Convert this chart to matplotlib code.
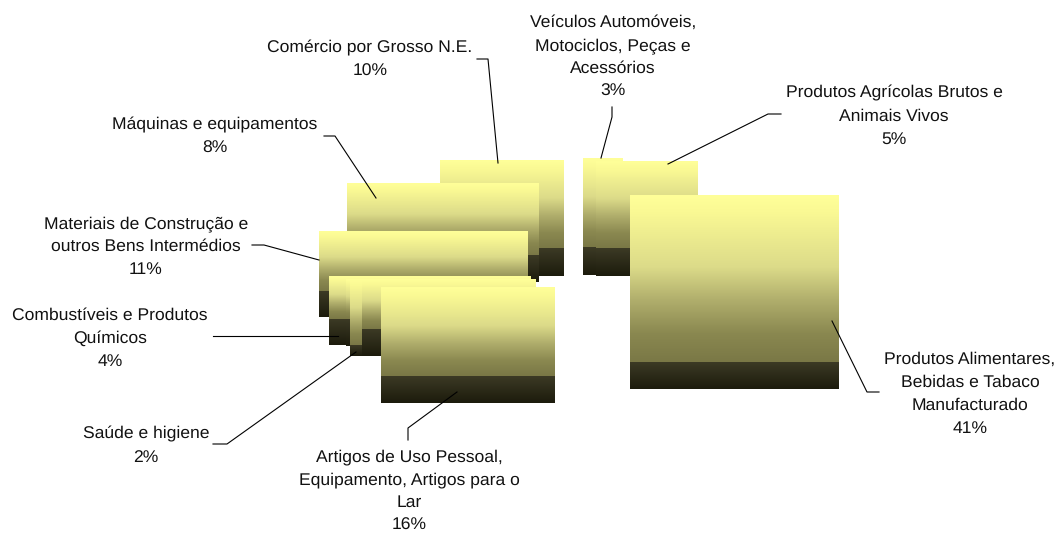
import numpy as np
import matplotlib
matplotlib.use('Agg')
import matplotlib.pyplot as plt
from matplotlib.colors import LinearSegmentedColormap

plt.rcParams['text.hinting'] = 'no_hinting'

# Chart data
categories = [
    'Comércio por Grosso N.E.',
    'Máquinas e equipamentos',
    'Materiais de Construção e\noutros Bens Intermédios',
    'Combustíveis e Produtos\nQuímicos',
    'Saúde e higiene',
    'Artigos de Uso Pessoal,\nEquipamento, Artigos para o\nLar',
    'Veículos Automóveis,\nMotociclos, Peças e\nAcessórios',
    'Produtos Agrícolas Brutos e\nAnimais Vivos',
    'Produtos Alimentares,\nBebidas e Tabaco\nManufacturado',
]
shares = [10, 8, 11, 4, 2, 16, 3, 5, 41]

# Label centres, in image pixels
label_x = [370, 215, 146, 110, 146, 409, 613, 894, 970]
label_y = [59.5, 136.5, 246.5, 338.5, 445.5, 491.5, 57, 116, 394]

# Block layout, drawn back to front: left, right, top, shade start, bottom
blocks = [
    (440, 564, 160, 248, 276),
    (347, 539, 183, 255, 282),
    (319, 528, 231, 291, 317),
    (329, 531, 276, 319, 345),
    (346, 536, 279, 319, 346),
    (350, 536, 279, 345, 356),
    (362, 536, 279, 329, 356),
    (381, 555, 287, 376, 403),
    (583, 623, 158, 247, 275),
    (596, 698, 161, 248, 276),
    (630, 839, 195, 362, 389),
]

# Leader lines
leaders = [
    ([477, 488, 498], [59, 59, 163]),
    ([324, 335, 376], [136, 136, 198]),
    ([252, 264, 319], [245, 245, 260]),
    ([213, 338], [336, 336]),
    ([213, 227, 356], [444, 444, 352]),
    ([408, 408, 457], [440, 428, 392]),
    ([612, 612, 601], [107, 117, 158]),
    ([781, 768, 668], [114, 114, 164]),
    ([879, 867, 832], [392, 392, 321]),
]

light = LinearSegmentedColormap.from_list('light', [
    (0, '#ffff99'), (0.1, '#faf994'), (0.43, '#dcdb89'),
    (0.63, '#b0ae6c'), (0.83, '#8a8850'), (1, '#7a7846')])
dark = LinearSegmentedColormap.from_list('dark', ['#3c3a25', '#1c1b0c'])
ramp = np.linspace(0, 1, 256).reshape(-1, 1)

fig = plt.figure(figsize=(10.59, 5.33), dpi=100)
ax = fig.add_axes([0, 0, 1, 1])

for left, right, top, mid, bottom in blocks:
    ax.imshow(ramp, cmap=light, extent=(left, right, mid, top), aspect='auto', interpolation='bilinear')
    ax.imshow(ramp, cmap=dark, extent=(left, right, bottom, mid), aspect='auto', interpolation='bilinear')

for xs, ys in leaders:
    ax.plot(xs, ys, color='black', lw=0.8)

for name, share, x, y in zip(categories, shares, label_x, label_y):
    ax.text(x, y, f'{name}\n{share}%', ha='center', va='center', ma='center',
            fontsize=12.6, family='Liberation Sans', color='#111111', linespacing=1.57)

ax.set_xlim(0, 1059)
ax.set_ylim(533, 0)
ax.axis('off')

fig.savefig('out.png', dpi=100)
